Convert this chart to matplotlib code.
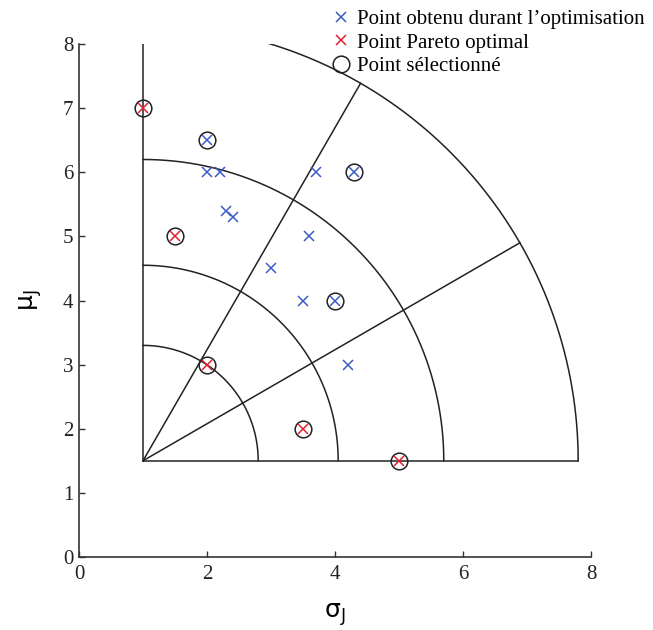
import numpy as np
import matplotlib
matplotlib.use("Agg")
import matplotlib.pyplot as plt
from matplotlib.lines import Line2D

plt.rcParams['mathtext.fontset'] = 'custom'
plt.rcParams['mathtext.rm'] = 'Liberation Sans'
plt.rcParams['mathtext.it'] = 'Liberation Sans'

# centre of the sectors and radii of the arcs
center = (1.0, 1.5)
radii = [1.8, 3.05, 4.7, 6.8]
ray_angles = [0, 30, 60, 90]

# points found during optimisation (blue)
opt_x = [2.0, 2.2, 2.3, 2.4, 3.0, 3.5, 3.6, 3.7, 4.2, 2.0, 4.3, 4.0]
opt_y = [6.0, 6.0, 5.4, 5.3, 4.5, 4.0, 5.0, 6.0, 3.0, 6.5, 6.0, 4.0]

# Pareto optimal points (red)
pareto_x = [1.0, 1.5, 2.0, 3.5, 5.0]
pareto_y = [7.0, 5.0, 3.0, 2.0, 1.5]

# selected points (circled)
sel_x = [1.0, 2.0, 1.5, 2.0, 3.5, 5.0, 4.3, 4.0]
sel_y = [7.0, 6.5, 5.0, 3.0, 2.0, 1.5, 6.0, 4.0]

BLUE = '#3b5cc4'
RED = '#e3202e'

fig = plt.figure(figsize=(6.53, 6.30), dpi=100)
ax = fig.add_axes([0.121, 0.116, 0.784, 0.814])

# sector grid
t = np.linspace(0, np.pi / 2, 300)
for r in radii:
    ax.plot(center[0] + r * np.cos(t), center[1] + r * np.sin(t),
            color='#222222', lw=1.1, zorder=1)
for a in ray_angles:
    ang = np.deg2rad(a)
    ax.plot([center[0], center[0] + radii[-1] * np.cos(ang)],
            [center[1], center[1] + radii[-1] * np.sin(ang)],
            color='#222222', lw=1.1, zorder=1)

ax.plot(opt_x, opt_y, 'x', color=BLUE, ms=7.5, mew=1.1, zorder=3)
ax.plot(pareto_x, pareto_y, 'x', color=RED, ms=7.5, mew=1.1, zorder=3)
ax.plot(sel_x, sel_y, 'o', mfc='none', mec='#222222', ms=12, mew=1.1, zorder=2)

ax.set_xlim(0, 8)
ax.set_ylim(0, 8)
ax.set_xticks([0, 2, 4, 6, 8])
ax.set_yticks(range(0, 9))
for s in ['top', 'right']:
    ax.spines[s].set_visible(False)
for s in ['left', 'bottom']:
    ax.spines[s].set_color('#333333')
    ax.spines[s].set_linewidth(1.2)
ax.tick_params(direction='in', length=4, width=1, colors='#333333',
               labelcolor='#222222')
ax.tick_params(axis='x', pad=6)
ax.tick_params(axis='y', pad=4)
for lab in ax.get_xticklabels() + ax.get_yticklabels():
    lab.set_fontfamily('Liberation Serif')
    lab.set_fontsize(15)

ax.set_xlabel(r'$\mathregular{\sigma_J}$', fontsize=18, labelpad=12)
ax.set_ylabel(r'$\mathregular{\mu_J}$', fontsize=18, labelpad=14)

handles = [
    Line2D([], [], ls='none', marker='x', color=BLUE, ms=7.5, mew=1.1),
    Line2D([], [], ls='none', marker='x', color=RED, ms=7.5, mew=1.1),
    Line2D([], [], ls='none', marker='o', mfc='none', mec='#222222', ms=12, mew=1.1),
]
labels = ['Point obtenu durant l\u2019optimisation', 'Point Pareto optimal',
          'Point s\u00e9lectionn\u00e9']
fig.legend(handles, labels, loc='upper right', bbox_to_anchor=(1.0, 0.998),
           frameon=False, handlelength=0.8, handletextpad=0.35,
           labelspacing=0.18, borderaxespad=0,
           prop={'family': 'Liberation Serif', 'size': 15})

fig.savefig('out.png', dpi=100)
